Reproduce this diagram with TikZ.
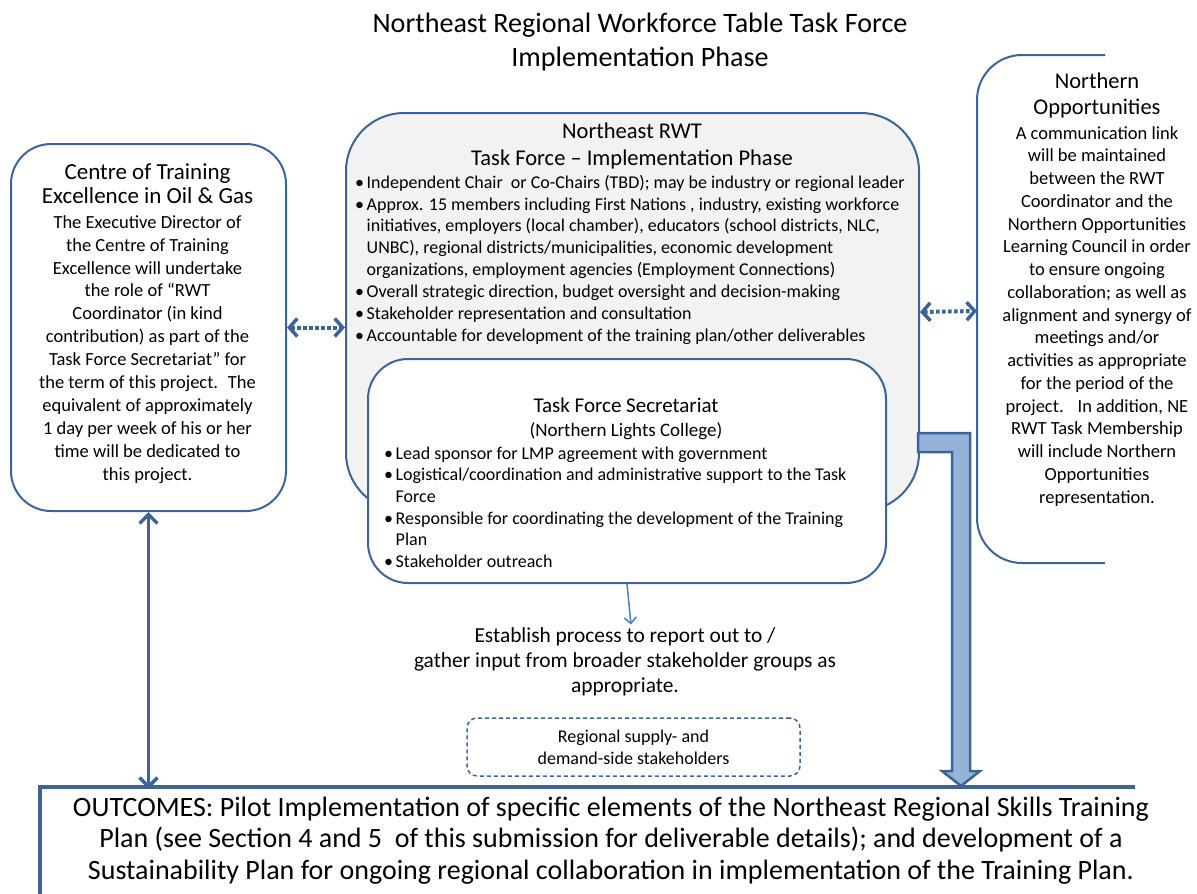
\documentclass[tikz,border=0pt]{standalone}
\usepackage{fontspec}
\setmainfont{Carlito}
\usetikzlibrary{arrows.meta}

\definecolor{rwtblue}{RGB}{61,100,150}
\definecolor{rwtgray}{RGB}{242,242,242}
\definecolor{rwtfill}{RGB}{149,179,215}
\definecolor{rwtlight}{RGB}{74,126,187}

\tikzset{
  box/.style={draw=rwtblue, line width=2pt, rounded corners=#1, inner sep=0pt},
  box/.default=40pt,
  txt/.style={inner sep=0pt, align=center, font=#1},
  bullets/.style={inner sep=0pt, align=left, anchor=north west, font=#1},
  dotlink/.style={draw=rwtblue, line width=4pt, dash pattern=on 3.5pt off 2.5pt,
    arrows={Straight Barb[length=8pt,width=18pt,line width=3.5pt]-Straight Barb[length=8pt,width=18pt,line width=3.5pt]}},
  solidlink/.style={draw=rwtblue, line width=3pt,
    arrows={Straight Barb[length=9pt,width=18pt,line width=3.5pt]-Straight Barb[length=9pt,width=18pt,line width=3.5pt]}},
  thinlink/.style={draw=rwtlight, line width=1.5pt, arrows={-Straight Barb[length=6pt,width=12pt]}}
}

\newcommand{\bl}{\makebox[11.5pt][l]{\textbullet}}
\newcommand{\cl}{\hspace*{11.5pt}}

\begin{document}
\begin{tikzpicture}[x=1pt,y=-1pt]
\useasboundingbox (0,0) rectangle (1197,894);

% heading
\node[txt=\fontsize{28.1}{34}\selectfont, anchor=north] (title) at (640,8.2)
  {\strut Northeast Regional Workforce Table Task Force\\Implementation Phase};

% centre of training excellence
\node[box, minimum width=275, minimum height=367, anchor=north west] (cote) at (10,143) {};
\node[txt=\fontsize{23}{24}\selectfont, anchor=north] (cotehead) at (147.5,162.2)
  {\strut Centre of Training\\Excellence in Oil \& Gas};
\node[txt=\fontsize{18.5}{22.9}\selectfont, anchor=north] (cotetext) at (147.5,212)
  {\strut The Executive Director of\\the Centre of Training\\Excellence will undertake\\the role of “RWT\\Coordinator (in kind\\contribution) as part of the\\Task Force Secretariat” for\\the term of this project.~ The\\equivalent of approximately\\1 day per week of his or her\\time will be dedicated to\\this project.};

% task force
\node[box=58pt, fill=rwtgray, minimum width=573, minimum height=398, anchor=north west] (rwt) at (345,112) {};
\node[txt=\fontsize{22.5}{27}\selectfont, anchor=north] (rwthead) at (632,119.1)
  {\strut Northeast RWT\\Task Force -- Implementation Phase};
\node[bullets=\fontsize{18}{21.86}\selectfont] (rwttext) at (355,172.7)
  {\strut\bl Independent Chair~ or Co-Chairs (TBD); may be industry or regional leader\\
   \bl Approx. 15 members including First Nations , industry, existing workforce\\
   \cl initiatives, employers (local chamber), educators (school districts, NLC,\\
   \cl UNBC), regional districts/municipalities, economic development\\
   \cl organizations, employment agencies (Employment Connections)\\
   \bl Overall strategic direction, budget oversight and decision-making\\
   \bl Stakeholder representation and consultation\\
   \bl Accountable for development of the training plan/other deliverables};

% secretariat
\node[box, fill=white, minimum width=518, minimum height=224, anchor=north west] (sec) at (367,358) {};
\node[txt=\fontsize{21}{24}\selectfont, anchor=north] (sechead) at (626,395.2)
  {\strut Task Force Secretariat\\{\fontsize{19}{24}\selectfont (Northern Lights College)}};
\node[bullets=\fontsize{18}{21.6}\selectfont] (sectext) at (384,443.9)
  {\strut\bl Lead sponsor for LMP agreement with government\\
   \bl Logistical/coordination and administrative support to the Task\\
   \cl Force\\
   \bl Responsible for coordinating the development of the Training\\
   \cl Plan\\
   \bl Stakeholder outreach};

% northern opportunities
\draw[rwtblue, line width=2pt, rounded corners=45pt] (1105,55) -- (977,55) -- (977,563) -- (1105,563);
\coordinate (nopp) at (977,311);
\node[txt=\fontsize{22.5}{26}\selectfont, anchor=north] (nopphead) at (1097,69.8)
  {\strut Northern\\Opportunities};
\node[txt=\fontsize{18.5}{22.75}\selectfont, anchor=north] (nopptext) at (1097,123.1)
  {\strut A communication link\\will be maintained\\between the RWT\\Coordinator and the\\Northern Opportunities\\Learning Council in order\\to ensure ongoing\\collaboration; as well as\\alignment and synergy of\\meetings and/or\\activities as appropriate\\for the period of the\\project.~~ In addition, NE\\RWT Task Membership\\will include Northern\\Opportunities\\representation.};

% stakeholders
\node[txt=\fontsize{21.4}{25}\selectfont, anchor=north] (est) at (625,624.5)
  {\strut Establish process to report out to /\\gather input from broader stakeholder groups as\\appropriate.};
\node[draw=rwtblue, line width=1.5pt, dash pattern=on 4pt off 3pt, rounded corners=10pt,
  minimum width=333, minimum height=58, txt=\fontsize{18}{22}\selectfont] (suppl) at (633.5,747)
  {Regional supply- and\\demand-side stakeholders};

% outcomes
\coordinate (outTL) at (40,787);
\draw[rwtblue, line width=4pt] (1135,787) -- (outTL) -- (40,900);
\node[txt=\fontsize{28}{31.5}\selectfont, anchor=north] (outc) at (611,794)
  {\strut OUTCOMES: Pilot Implementation of specific elements of the Northeast Regional Skills Training\\Plan (see Section 4 and 5~ of this submission for deliverable details); and development of a\\Sustainability Plan for ongoing regional collaboration in implementation of the Training Plan.};

% links
\draw[dotlink] (cote.east) -- (cote.east -| rwt.west);
\draw[dotlink] (rwt.east) -- (nopp);
\draw[solidlink] (cote.south) -- ([yshift=-2pt]cote.south |- outTL);
\draw[thinlink] (sec.south) -- ([xshift=6pt]est.north);
\draw[rwtblue, fill=rwtfill, line width=2.5pt, line join=miter]
  (918,433) -- (970,433) -- (970,771) -- (980,771) -- (961,786) -- (942,771)
  -- (952,771) -- (952,452) -- (918,452) -- cycle;

\end{tikzpicture}
\end{document}
